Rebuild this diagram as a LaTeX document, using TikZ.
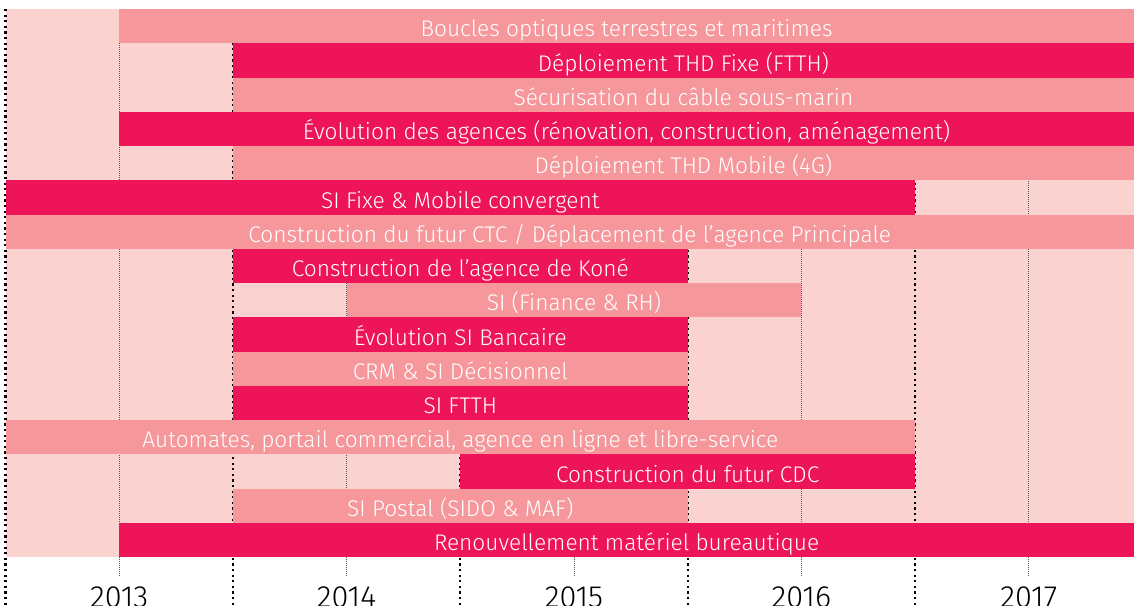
\documentclass[tikz,border=0pt]{standalone}
\usepackage{fontspec}
\setmainfont{Fira Sans}[UprightFont=* Light]
\usetikzlibrary{calc}

\definecolor{barlight}{RGB}{250,211,208}
\definecolor{barmid}{RGB}{245,151,155}
\definecolor{bardark}{RGB}{237,20,90}

\begin{document}
\begin{tikzpicture}[
    x=85.27pt, y=-25.69pt,
    midbar/.style={fill=barmid},
    darkbar/.style={fill=bardark},
    halfline/.style={black, line width=1.6pt, dash pattern=on 1.6pt off 2.6pt},
    yearline/.style={black!65, line width=0.6pt, dash pattern=on 0.75pt off 0.75pt},
    barlabel/.style={text=white, font=\fontsize{17}{20}\selectfont, inner sep=0pt, anchor=base},
    yearlabel/.style={font=\fontsize{23}{27}\selectfont, inner sep=0pt, anchor=base}
]
\useasboundingbox (-0.0484,-0.263) rectangle (9.925,17.40);
\fill[barlight] (0,0) rectangle (9.925,16);

% half-year and year grid
\foreach \k in {0,2,...,8}
    \draw[halfline] (\k,0) -- (\k,17.40);
\foreach \k in {1,3,...,9}
    \draw[yearline] (\k,0) -- (\k,16.58);

% bars: row / start / end / style / text
\foreach \r/\a/\b/\s/\t in {
    1/1/9.925/midbar/{Boucles optiques terrestres et maritimes},
    2/2/9.925/darkbar/{Déploiement THD Fixe (FTTH)},
    3/2/9.925/midbar/{Sécurisation du câble sous-marin},
    4/1/9.925/darkbar/{Évolution des agences (rénovation, construction, aménagement)},
    5/2/9.925/midbar/{Déploiement THD Mobile (4G)},
    6/0/8/darkbar/{SI Fixe \& Mobile convergent},
    7/0/9.925/midbar/{Construction du futur CTC / Déplacement de l’agence Principale},
    8/2/6/darkbar/{Construction de l’agence de Koné},
    9/3/7/midbar/{SI (Finance \& RH)},
    10/2/6/darkbar/{Évolution SI Bancaire},
    11/2/6/midbar/{CRM \& SI Décisionnel},
    12/2/6/darkbar/{SI FTTH},
    13/0/8/midbar/{Automates, portail commercial, agence en ligne et libre-service},
    14/4/8/darkbar/{Construction du futur CDC},
    15/2/6/midbar/{SI Postal (SIDO \& MAF)},
    16/1/9.925/darkbar/{Renouvellement matériel bureautique}} {
    \fill[\s] (\a,\r-1) rectangle (\b,\r);
    \node[barlabel] (bar\r) at ({(\a+\b)/2},\r-0.19) {\t};
}

% years
\foreach \y [count=\i] in {2013,2014,2015,2016,2017}
    \node[yearlabel] (year\y) at (2*\i-1,17.46) {\y};
\end{tikzpicture}
\end{document}
